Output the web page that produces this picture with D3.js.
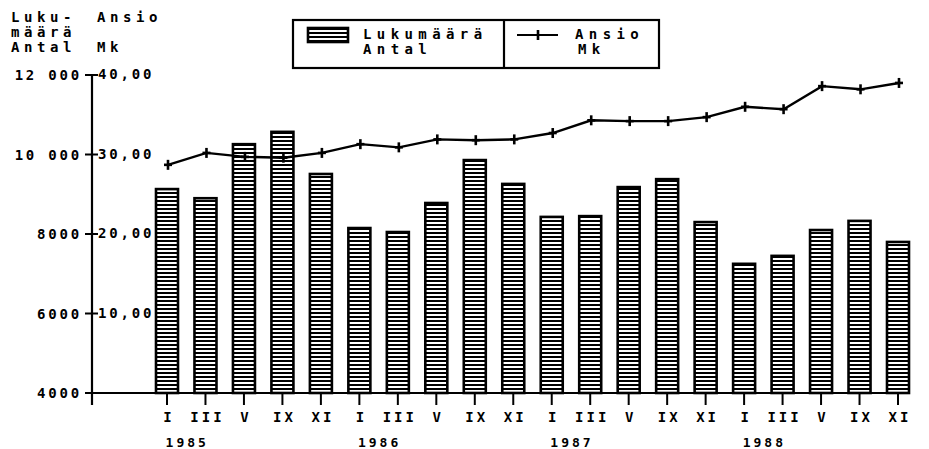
<!DOCTYPE html>
<html>
<head>
<meta charset="utf-8">
<script src="https://cdn.jsdelivr.net/npm/d3@7"></script>
<style>
  body { margin: 0; background: #fff; }
  text { font-family: "DejaVu Sans Mono", monospace; font-weight: bold; fill: #000; }
</style>
</head>
<body>
<div id="chart"></div>
<script>
// months (two-monthly samples), years, counts and earnings
var MONTHS = ['I', 'III', 'V', 'IX', 'XI', 'I', 'III', 'V', 'IX', 'XI',
              'I', 'III', 'V', 'IX', 'XI', 'I', 'III', 'V', 'IX', 'XI'];
var YEARS = ['1985', '1986', '1987', '1988'];
var LUKUMAARA = [9130, 8900, 10260, 10570, 9510, 8150, 8050, 8780, 9860, 9260,
                 8430, 8450, 9180, 9380, 8300, 7250, 7450, 8100, 8330, 7800];
var ANSIO = [28.7, 30.2, 29.7, 29.6, 30.2, 31.3, 30.9, 31.9, 31.8, 31.9,
             32.7, 34.3, 34.2, 34.2, 34.7, 36.0, 35.7, 38.6, 38.2, 39.0];
var LEFT_TICKS = [4000, 6000, 8000, 10000, 12000];
var LEFT_LABELS = ['4000', '6000', '8000', '10 000', '12 000'];
var RIGHT_TICKS = [10, 20, 30, 40];
var RIGHT_LABELS = ['10,00', '20,00', '30,00', '40,00'];

var WIDTH = 929, HEIGHT = 449;
var AXIS_X = 92, BASE_Y = 393, TOP_Y = 75;

var svg = d3.select('#chart').append('svg')
    .attr('width', WIDTH).attr('height', HEIGHT);

var defs = svg.append('defs');
var pat = defs.append('pattern')
    .attr('id', 'stripes').attr('patternUnits', 'userSpaceOnUse')
    .attr('width', 40).attr('height', 4);
pat.append('rect').attr('width', 40).attr('height', 4).attr('fill', '#fff');
pat.append('rect').attr('y', 0).attr('width', 40).attr('height', 2).attr('fill', '#000');

var idx = d3.range(MONTHS.length);
var x = d3.scalePoint().domain(idx).range([167, 898]);
var yL = d3.scaleLinear().domain([4000, 12000]).range([BASE_Y, TOP_Y]);
var yR = d3.scaleLinear().domain([0, 40]).range([BASE_Y, TOP_Y]);
var BAR_W = 22;

// bars
svg.append('g').selectAll('rect')
    .data(LUKUMAARA).enter().append('rect')
    .attr('x', function(d, i){ return x(i) - BAR_W / 2; })
    .attr('y', function(d){ return yL(d); })
    .attr('width', BAR_W)
    .attr('height', function(d){ return BASE_Y - yL(d); })
    .attr('fill', 'url(#stripes)')
    .attr('stroke', '#000').attr('stroke-width', 2.6);

// axes
svg.append('line').attr('x1', AXIS_X).attr('x2', AXIS_X)
    .attr('y1', TOP_Y).attr('y2', 405).attr('stroke', '#000').attr('stroke-width', 2.2);
svg.append('line').attr('x1', 85).attr('x2', 910)
    .attr('y1', BASE_Y).attr('y2', BASE_Y).attr('stroke', '#000').attr('stroke-width', 2.2);

var ticks = svg.append('g');
ticks.selectAll('line.l').data(LEFT_TICKS).enter().append('line')
    .attr('x1', 85).attr('x2', 98)
    .attr('y1', function(d){ return yL(d); }).attr('y2', function(d){ return yL(d); })
    .attr('stroke', '#000').attr('stroke-width', 2);
ticks.selectAll('text.l').data(LEFT_TICKS).enter().append('text')
    .attr('x', 82).attr('y', function(d){ return yL(d) + 5; })
    .attr('text-anchor', 'end')
    .style('font-size', '14px').style('letter-spacing', '2.8px')
    .text(function(d, i){ return LEFT_LABELS[i]; });
ticks.selectAll('text.r').data(RIGHT_TICKS).enter().append('text')
    .attr('x', 98).attr('y', function(d){ return yR(d) + 4; })
    .style('font-size', '14px').style('letter-spacing', '2.8px')
    .text(function(d, i){ return RIGHT_LABELS[i]; });

// x ticks and labels
var xa = svg.append('g');
xa.selectAll('line').data(idx).enter().append('line')
    .attr('x1', function(d){ return x(d); }).attr('x2', function(d){ return x(d); })
    .attr('y1', BASE_Y).attr('y2', 405)
    .attr('stroke', '#000').attr('stroke-width', 2);
xa.selectAll('text.m').data(MONTHS).enter().append('text')
    .attr('x', function(d, i){ return x(i) + 2; }).attr('y', 422)
    .attr('text-anchor', 'middle')
    .style('font-size', '14px').style('letter-spacing', '3px')
    .text(function(d){ return d; });
xa.selectAll('text.y').data(YEARS).enter().append('text')
    .attr('x', function(d, i){ return (x(i * 5) + x(i * 5 + 1)) / 2 + 1; }).attr('y', 447)
    .attr('text-anchor', 'middle')
    .style('font-size', '13px').style('letter-spacing', '3px')
    .text(function(d){ return d; });

// line
var line = d3.line()
    .x(function(d, i){ return x(i) + 1; })
    .y(function(d){ return yR(d); });
svg.append('path').datum(ANSIO).attr('d', line)
    .attr('fill', 'none').attr('stroke', '#000').attr('stroke-width', 2.4);
var marks = svg.append('g').selectAll('g').data(ANSIO).enter().append('g')
    .attr('transform', function(d, i){ return 'translate(' + (x(i) + 1) + ',' + yR(d) + ')'; });
marks.append('line').attr('y1', -5).attr('y2', 5).attr('stroke', '#000').attr('stroke-width', 2.6);
marks.append('line').attr('x1', -4).attr('x2', 4).attr('stroke', '#000').attr('stroke-width', 2.6);

// axis titles
var titles = svg.append('g').style('font-size', '14px').style('letter-spacing', '4.6px');
titles.append('text').attr('x', 11).attr('y', 22).text('Luku-');
titles.append('text').attr('x', 11).attr('y', 37).text('määrä');
titles.append('text').attr('x', 11).attr('y', 52).text('Antal');
titles.append('text').attr('x', 97).attr('y', 22).text('Ansio');
titles.append('text').attr('x', 97).attr('y', 52).text('Mk');

// legend
var lg = svg.append('g');
lg.append('rect').attr('x', 293).attr('y', 20).attr('width', 366).attr('height', 48)
    .attr('fill', '#fff').attr('stroke', '#000').attr('stroke-width', 2.2);
lg.append('line').attr('x1', 504).attr('x2', 504).attr('y1', 20).attr('y2', 68)
    .attr('stroke', '#000').attr('stroke-width', 2.2);
lg.append('rect').attr('x', 308).attr('y', 28).attr('width', 40).attr('height', 14)
    .attr('fill', 'url(#stripes)').attr('stroke', '#000').attr('stroke-width', 2.6);
lg.append('text').attr('x', 363).attr('y', 39).style('font-size', '14px').style('letter-spacing', '5.4px').text('Lukumäärä');
lg.append('text').attr('x', 363).attr('y', 54).style('font-size', '14px').style('letter-spacing', '5.4px').text('Antal');
lg.append('line').attr('x1', 517).attr('x2', 558).attr('y1', 35).attr('y2', 35)
    .attr('stroke', '#000').attr('stroke-width', 2.2);
lg.append('line').attr('x1', 538).attr('x2', 538).attr('y1', 30).attr('y2', 40)
    .attr('stroke', '#000').attr('stroke-width', 2.6);
lg.append('text').attr('x', 575).attr('y', 39).style('font-size', '14px').style('letter-spacing', '5.4px').text('Ansio');
lg.append('text').attr('x', 578).attr('y', 54).style('font-size', '14px').style('letter-spacing', '5.4px').text('Mk');
</script>
</body>
</html>
